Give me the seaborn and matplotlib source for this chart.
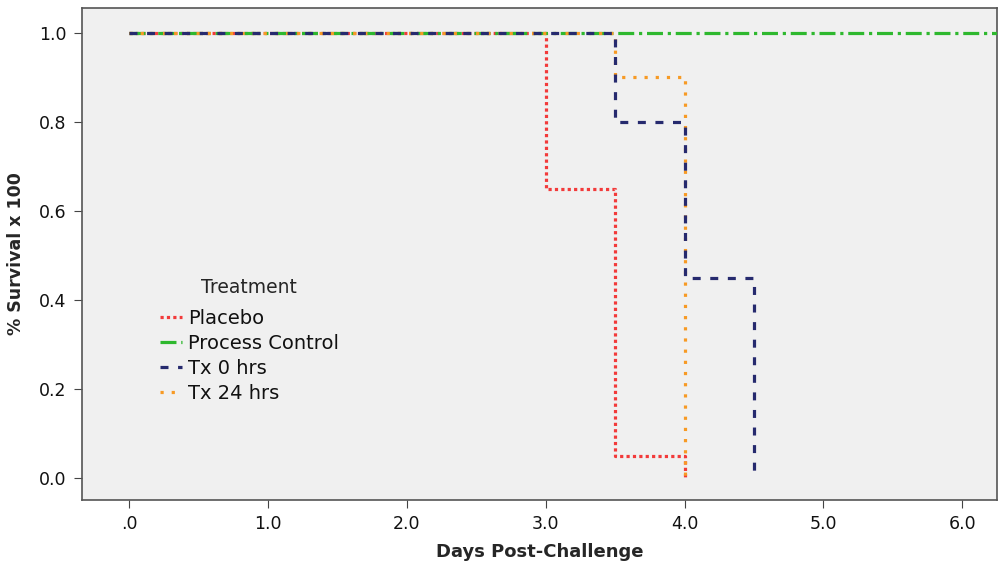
import pandas as pd
import numpy as np
import matplotlib
matplotlib.use("Agg")
from matplotlib import pyplot as plt
import seaborn as sns

# 生存曲线数据（阶梯）
placebo_x = [0.0, 3.0, 3.5, 4.0]
placebo_y = [1.0, 0.65, 0.05, 0.0]
control_x = [0.0, 6.25]
control_y = [1.0, 1.0]
tx0_x = [0.0, 3.5, 4.0, 4.5]
tx0_y = [1.0, 0.8, 0.45, 0.0]
tx24_x = [0.0, 3.5, 4.0]
tx24_y = [1.0, 0.9, 0.0]

groups = ["Placebo", "Process Control", "Tx 0 hrs", "Tx 24 hrs"]
xs = [placebo_x, control_x, tx0_x, tx24_x]
ys = [placebo_y, control_y, tx0_y, tx24_y]
colors = ["#f23a3a", "#2eb82e", "#262a6e", "#f79a24"]
styles = [(0, (1, 1)), (0, (5, 1.5, 1, 1.5)), (0, (2.5, 3)), (0, (1, 2.5))]

xticks = [0, 1, 2, 3, 4, 5, 6]
xtick_labels = [".0", "1.0", "2.0", "3.0", "4.0", "5.0", "6.0"]
yticks = [0.0, 0.2, 0.4, 0.6, 0.8, 1.0]
ytick_labels = ["0.0", "0.2", "0.4", "0.6", "0.8", "1.0"]

sns.set_style("ticks")
plt.rcParams['font.family'] = ['DejaVu Sans']

fig = plt.figure(figsize=(9.98, 5.67), dpi=100)
ax = fig.add_axes([0.082, 0.118, 0.917, 0.868])
ax.set_facecolor("#f0f0f0")

# 画的顺序：让虚线在上面
order = [0, 1, 3, 2]
for k, i in enumerate(order):
    df = pd.DataFrame({"x": xs[i], "y": ys[i]})
    sns.lineplot(data=df, x="x", y="y", ax=ax, color=colors[i], linewidth=2.3,
                 drawstyle="steps-post", label=groups[i], zorder=3 + k)
    ax.lines[-1].set_linestyle(styles[i])

ax.set_xlim(-0.34, 6.25)
ax.set_ylim(-0.049, 1.056)
ax.set_xticks(xticks)
ax.set_xticklabels(xtick_labels, fontsize=12.5, color="#111111")
ax.set_yticks(yticks)
ax.set_yticklabels(ytick_labels, fontsize=12.5, color="#111111")
ax.tick_params(direction="out", length=6, color="#444444", pad=5)
ax.set_xlabel("Days Post-Challenge", fontsize=13, fontweight="bold", labelpad=7)
ax.set_ylabel("% Survival x 100", fontsize=12.5, fontweight="bold", labelpad=10)
for s in ax.spines.values():
    s.set_color("#555555")
    s.set_linewidth(1.2)

handles, labels = ax.get_legend_handles_labels()
hmap = dict(zip(labels, handles))
leg = ax.legend([hmap[g] for g in groups], groups, title="Treatment", loc="upper left",
                bbox_to_anchor=(0.07, 0.478), frameon=False, handlelength=1.15,
                handletextpad=0.3, labelspacing=0.3, borderaxespad=0.3,
                prop={"size": 14})
leg.get_title().set_fontsize(13.5)
leg._legend_box.sep = 8.5  # 标题和条目之间多留一点
for t in leg.get_texts():
    t.set_color("#111111")

fig.savefig("out.png", dpi=100)
